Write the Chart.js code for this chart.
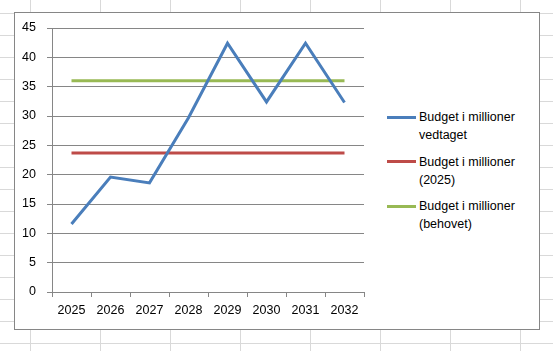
<!DOCTYPE html>
<html>
<head>
<meta charset="utf-8">
<script src="https://cdn.jsdelivr.net/npm/chart.js@4"></script>
<style>
  html, body {
    margin: 0;
    padding: 0;
    width: 553px;
    height: 351px;
    overflow: hidden;
  }
  body {
    background-color: #fff;
    background-image:
      linear-gradient(to right, #d9d9d9 1px, transparent 1px),
      linear-gradient(to bottom, #d9d9d9 1px, transparent 1px);
    background-size: 70px 22px;
    background-position: 30px 13px;
    font-family: "Liberation Sans", Arial, sans-serif;
  }
  #box {
    position: absolute;
    left: 14px;
    top: 12px;
    width: 524px;
    height: 316px;
    border: 1px solid #868686;
    background: #fff;
  }
  #chart {
    position: absolute;
    left: 0;
    top: 0;
  }
  #legend {
    position: absolute;
    left: 372px;
    top: 95px;
    font-size: 12.5px;
    line-height: 18px;
    color: #000;
  }
  .item {
    position: relative;
    padding-left: 32px;
    margin-bottom: 8.5px;
  }
  .swatch {
    position: absolute;
    left: 0;
    top: 7.5px;
    width: 29px;
    height: 3px;
  }
</style>
</head>
<body>
<div id="box">
  <canvas id="chart" width="370" height="316"></canvas>
  <div id="legend"></div>
</div>
<script>
// Data
const years = ["2025", "2026", "2027", "2028", "2029", "2030", "2031", "2032"];
const vedtaget = [11.6, 19.6, 18.6, 29.7, 42.4, 32.4, 42.4, 32.3];
const budget2025 = [23.7, 23.7, 23.7, 23.7, 23.7, 23.7, 23.7, 23.7];
const behovet = [36.0, 36.0, 36.0, 36.0, 36.0, 36.0, 36.0, 36.0];
const seriesNames = [
  ["Budget i millioner", "vedtaget"],
  ["Budget i millioner", "(2025)"],
  ["Budget i millioner", "(behovet)"],
];
const yTicks = [0, 5, 10, 15, 20, 25, 30, 35, 40, 45];

const colors = ["#4a7ebb", "#be4b48", "#98b954"];
const axisGray = "#868686";
const tickFont = { family: "'Liberation Sans', Arial, sans-serif", size: 12.5 };

function makeSet(name, values, color) {
  return {
    label: name,
    data: values,
    borderColor: color,
    backgroundColor: color,
    borderWidth: 3,
    pointRadius: 0,
    pointHoverRadius: 0,
    tension: 0,
    fill: false,
  };
}

const ctx = document.getElementById("chart").getContext("2d");
const chart = new Chart(ctx, {
  type: "line",
  data: {
    labels: years,
    datasets: [
      makeSet(seriesNames[0], vedtaget, colors[0]),
      makeSet(seriesNames[1], budget2025, colors[1]),
      makeSet(seriesNames[2], behovet, colors[2]),
    ],
  },
  options: {
    responsive: false,
    animation: false,
    layout: { padding: { left: 0, right: 21, top: 15, bottom: 0 } },
    plugins: {
      legend: { display: false },
      tooltip: { enabled: false },
    },
    scales: {
      x: {
        offset: true,
        grid: {
          offset: true,
          drawOnChartArea: false,
          drawTicks: true,
          tickLength: 5,
          color: axisGray,
        },
        border: { color: axisGray, width: 1 },
        ticks: { font: tickFont, color: "#000", padding: 6, maxRotation: 0 },
        afterFit: (scale) => { scale.height = 37; },
      },
      y: {
        min: yTicks[0],
        max: yTicks[yTicks.length - 1],
        grid: { color: axisGray, tickLength: 5 },
        border: { color: axisGray, width: 1 },
        ticks: { font: tickFont, color: "#000", padding: 11, stepSize: 5 },
        afterFit: (scale) => {
          scale.width = 37;
          scale.paddingTop = 0;
          scale.paddingBottom = 0;
        },
      },
    },
  },
});

// Leyenda a la derecha, construida con los datasets del gráfico
const legend = document.getElementById("legend");
chart.data.datasets.forEach((ds) => {
  const item = document.createElement("div");
  item.className = "item";
  const sw = document.createElement("span");
  sw.className = "swatch";
  sw.style.background = ds.borderColor;
  item.appendChild(sw);
  ds.label.forEach((line, i) => {
    if (i > 0) item.appendChild(document.createElement("br"));
    item.appendChild(document.createTextNode(line));
  });
  legend.appendChild(item);
});
</script>
</body>
</html>
